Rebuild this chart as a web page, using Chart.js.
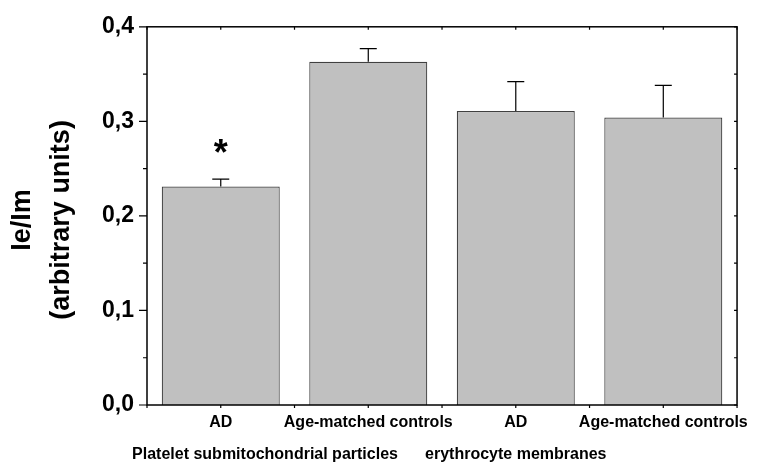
<!DOCTYPE html>
<html lang="en">
<head>
  <meta charset="UTF-8">
  <title>Ie/Im bar chart</title>
  <script src="https://cdn.jsdelivr.net/npm/chart.js"></script>
  <style>
    body { margin: 0; background: #fff; }
    #wrap { width: 757px; height: 470px; }
  </style>
</head>
<body>
  <div id="wrap"><canvas id="ieChart"></canvas></div>

  <script>
// data
const categories = ['AD', 'Age-matched controls', 'AD', 'Age-matched controls'];
const values = [0.231, 0.363, 0.311, 0.304];
const errors = [0.008, 0.014, 0.031, 0.034];
const marks = ['*', '', '', ''];
const groupLabels = ['Platelet submitochondrial particles', 'erythrocyte membranes'];
const yTitle = ['Ie/Im', '(arbitrary units)'];

const FONT = '"Liberation Sans", Arial, Helvetica, sans-serif';

// frame, tick marks, error bars, asterisk and texts outside the axes
const extras = {
  id: 'extras',
  afterDatasetsDraw(chart) {
    const ctx = chart.ctx;
    const a = chart.chartArea;
    const x = chart.scales.x;
    const y = chart.scales.y;
    ctx.save();

    // error bars (upper only)
    ctx.strokeStyle = '#000';
    ctx.lineWidth = 1.2;
    values.forEach((v, i) => {
      const px = x.getPixelForValue(i);
      const y0 = y.getPixelForValue(v);
      const y1 = y.getPixelForValue(v + errors[i]);
      ctx.beginPath();
      ctx.moveTo(px, y0);
      ctx.lineTo(px, y1);
      ctx.moveTo(px - 8.5, y1);
      ctx.lineTo(px + 8.5, y1);
      ctx.stroke();
      if (marks[i]) {
        ctx.fillStyle = '#000';
        ctx.font = 'bold 36px ' + FONT;
        ctx.textAlign = 'center';
        ctx.textBaseline = 'middle';
        ctx.fillText(marks[i], px, y1 - 24);
      }
    });

    // frame
    ctx.lineWidth = 1.5;
    ctx.strokeRect(a.left, a.top, a.right - a.left, a.bottom - a.top);

    // y ticks: majors every 0.1 outward, minors every 0.05
    ctx.lineWidth = 1.2;
    for (let k = 0; k <= 8; k++) {
      const py = y.getPixelForValue(k * 0.05);
      const len = k % 2 === 0 ? 8 : 4;
      ctx.beginPath();
      ctx.moveTo(a.left - len, py);
      ctx.lineTo(a.left, py);
      ctx.moveTo(a.right, py);
      ctx.lineTo(a.right - 3, py);
      ctx.stroke();
    }
    // x ticks at centres and boundaries
    for (let k = 0; k <= categories.length * 2; k++) {
      const px = x.getPixelForValue(k / 2 - 0.5);
      ctx.beginPath();
      ctx.moveTo(px, a.bottom);
      ctx.lineTo(px, a.bottom + 3);
      ctx.moveTo(px, a.top);
      ctx.lineTo(px, a.top + 3);
      ctx.stroke();
    }

    ctx.fillStyle = '#000';
    // group labels under the categories
    ctx.font = 'bold 16px ' + FONT;
    ctx.textAlign = 'center';
    ctx.textBaseline = 'middle';
    ctx.fillText(groupLabels[0], x.getPixelForValue(0.3), 455);
    ctx.fillText(groupLabels[1], x.getPixelForValue(2), 455);

    // rotated y title, two lines
    ctx.font = 'bold 27px ' + FONT;
    ctx.translate(0, (a.top + a.bottom) / 2 + 4);
    ctx.rotate(-Math.PI / 2);
    ctx.fillText(yTitle[0], 0, 23);
    ctx.fillText(yTitle[1], 0, 62);
    ctx.restore();
  }
};

const ctx = document.getElementById('ieChart').getContext('2d');
new Chart(ctx, {
  type: 'bar',
  data: {
    labels: categories,
    datasets: [{
      data: values,
      backgroundColor: '#c0c0c0',
      borderColor: '#404040',
      borderWidth: 1.2,
      barPercentage: 0.8,
      categoryPercentage: 1.0
    }]
  },
  options: {
    responsive: true,
    maintainAspectRatio: false,
    animation: false,
    layout: { padding: { top: 25, right: 10, left: 0, bottom: 0 } },
    plugins: {
      legend: { display: false },
      tooltip: { enabled: false }
    },
    scales: {
      x: {
        grid: { display: false, drawTicks: false },
        border: { display: false },
        ticks: {
          color: '#000',
          font: { family: FONT, size: 16, weight: 'bold' },
          padding: 8,
          maxRotation: 0,
          autoSkip: false
        },
        afterFit(scale) { scale.height = 65; }
      },
      y: {
        min: 0,
        max: 0.4,
        grid: { display: false, drawTicks: false },
        border: { display: false },
        ticks: {
          stepSize: 0.1,
          color: '#000',
          padding: 13,
          font: { family: FONT, size: 23, weight: 'bold' },
          callback: (v) => v.toFixed(1).replace('.', ',')
        },
        afterFit(scale) { scale.width = 147; }
      }
    }
  },
  plugins: [extras]
});
  </script>
</body>
</html>
